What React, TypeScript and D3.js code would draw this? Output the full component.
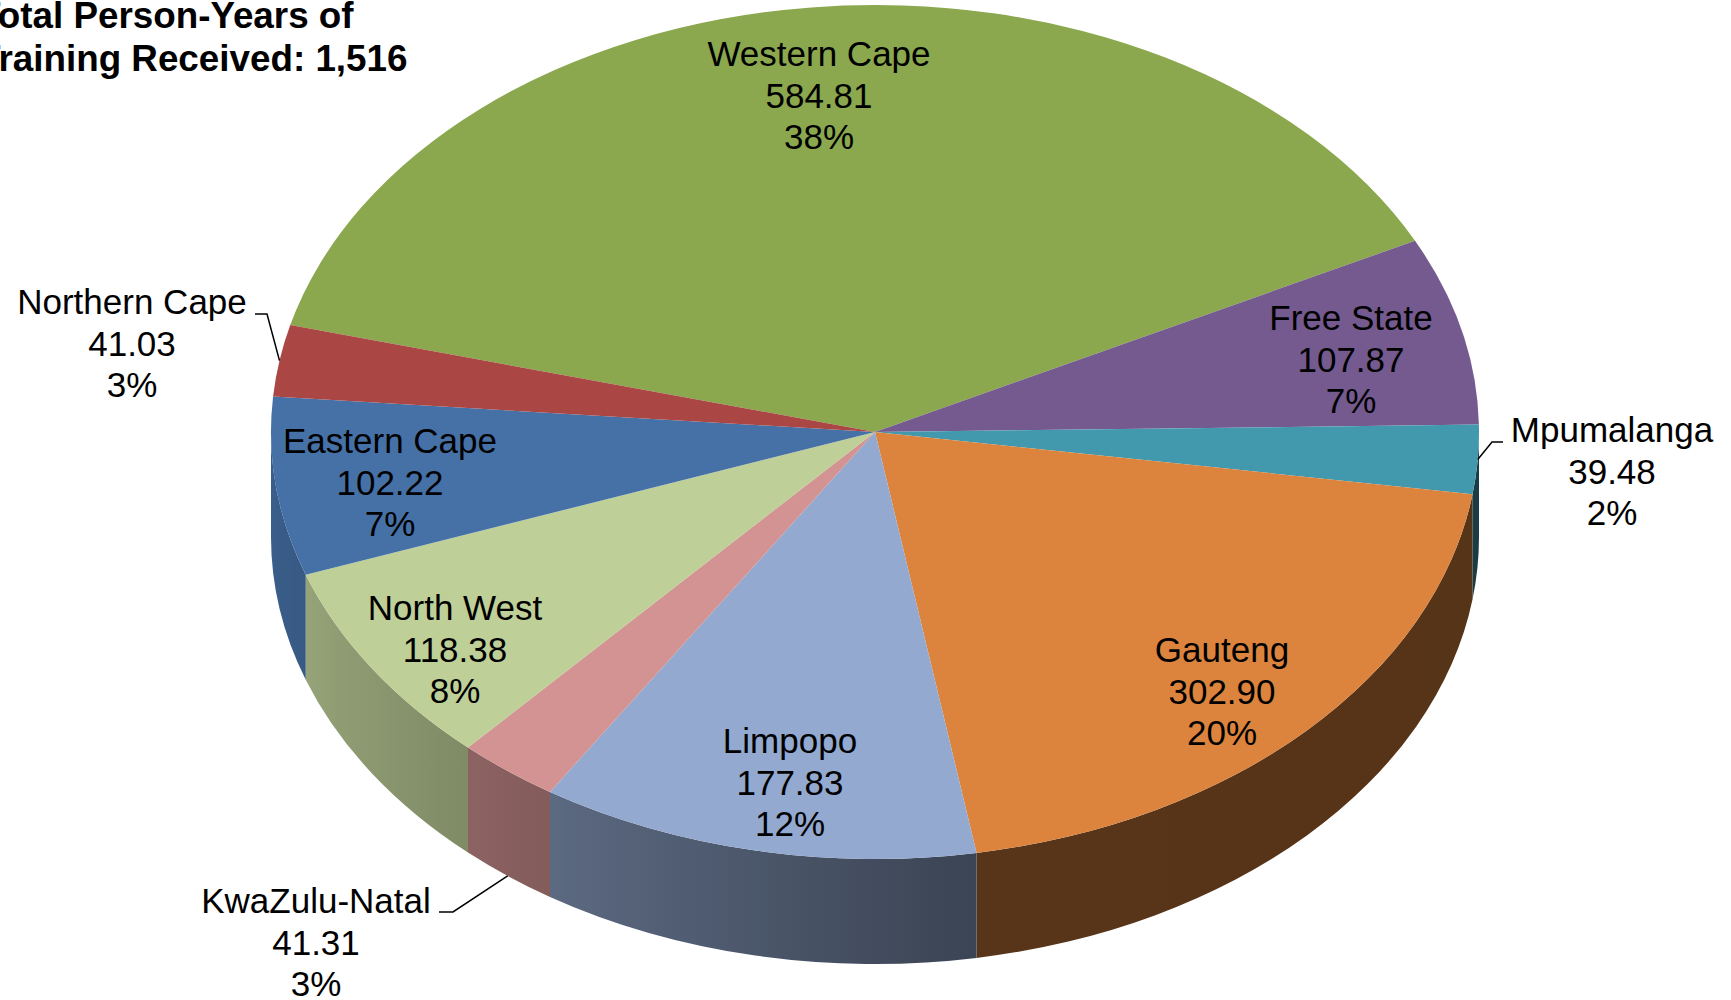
import React from "react";
import * as d3 from "d3";

// ---------- data ----------
const categories = [
  "Western Cape",
  "Free State",
  "Mpumalanga",
  "Gauteng",
  "Limpopo",
  "KwaZulu-Natal",
  "North West",
  "Eastern Cape",
  "Northern Cape",
];
const values = [584.81, 107.87, 39.48, 302.9, 177.83, 41.31, 118.38, 102.22, 41.03];
const percentLabels = ["38%", "7%", "2%", "20%", "12%", "3%", "8%", "7%", "3%"];
const titleLines = ["Total Person-Years of", "Training Received: 1,516"];

// ---------- style / layout ----------
const topColors = [
  "#8BA84E",
  "#745A8F",
  "#4299AE",
  "#DC843D",
  "#93A9D0",
  "#D29392",
  "#BECF98",
  "#4671A7",
  "#AA4644",
];

const W = 1731;
const H = 1000;
const CX = 875;
const CY = 432;
const RX = 604;
const RY = 427;
const DEPTH = 105;
const START_DEG = -75.5;
const FONT = "'Liberation Sans', Arial, Helvetica, sans-serif";
const FS = 35;
const LH = 41.5;

// label anchor: centre x, first baseline
const labelAnchors: [number, number][] = [
  [819, 66],
  [1351, 330],
  [1612, 442],
  [1222, 662],
  [790, 753],
  [316, 913],
  [455, 620],
  [390, 453],
  [132, 314],
];
// leader lines: elbow points, and whether the end sits on the bottom rim
const leaders: { idx: number; pts: [number, number][]; bottom: boolean }[] = [
  { idx: 2, pts: [[1503, 442], [1492, 442]], bottom: false },
  { idx: 5, pts: [[439, 912], [453, 912]], bottom: true },
  { idx: 8, pts: [[255, 314], [267, 314]], bottom: false },
];

const shade = d3
  .scaleLinear<number>()
  .domain([90, 170, 212, 222, 250, 270])
  .range([0.39, 0.4, 0.62, 0.67, 0.79, 0.84])
  .clamp(true);

const px = (t: number) => CX + RX * Math.sin(t);
const py = (t: number) => CY - RY * Math.cos(t);

function darken(c: string, f: number) {
  const r = d3.rgb(c);
  return d3.rgb(r.r * f, r.g * f, r.b * f).formatHex();
}

export default function App() {
  const start = (START_DEG * Math.PI) / 180;
  const arcs = d3
    .pie<number>()
    .sort(null)
    .startAngle(start)
    .endAngle(start + 2 * Math.PI)(values);

  const half = Math.PI / 2;
  const sides: { i: number; a: number; b: number }[] = [];
  arcs.forEach((arc, i) => {
    for (const off of [0, 2 * Math.PI, -2 * Math.PI]) {
      const a = Math.max(arc.startAngle + off, half);
      const b = Math.min(arc.endAngle + off, 3 * half);
      if (b - a > 1e-4) sides.push({ i, a, b });
    }
  });

  const topPath = (a0: number, a1: number) => {
    const large = a1 - a0 > Math.PI ? 1 : 0;
    return `M${CX},${CY}L${px(a0)},${py(a0)}A${RX},${RY} 0 ${large} 1 ${px(a1)},${py(a1)}Z`;
  };
  const sidePath = (a: number, b: number) =>
    `M${px(a)},${py(a)}A${RX},${RY} 0 0 1 ${px(b)},${py(b)}L${px(b)},${py(b) + DEPTH}A${RX},${RY} 0 0 0 ${px(a)},${py(a) + DEPTH}Z`;

  return (
    <svg
      width={W}
      height={H}
      viewBox={`0 0 ${W} ${H}`}
      style={{ position: "absolute", left: 0, top: 0, background: "#fff" }}
      fontFamily={FONT}
    >
      <defs>
        {sides.map((s, k) => {
          const x1 = px(s.b);
          const x2 = px(s.a);
          const n = Math.max(2, Math.ceil(((s.b - s.a) * 180) / Math.PI / 2));
          const stops = d3.range(n + 1).map((j) => {
            const t = s.a + ((s.b - s.a) * j) / n;
            const off = x2 === x1 ? 0 : (px(t) - x1) / (x2 - x1);
            return { off, col: darken(topColors[s.i], shade((t * 180) / Math.PI)) };
          });
          stops.sort((p, q) => p.off - q.off);
          return (
            <linearGradient key={k} id={`side${k}`} gradientUnits="userSpaceOnUse" x1={x1} y1={0} x2={x2} y2={0}>
              {stops.map((st, j) => (
                <stop key={j} offset={Math.min(1, Math.max(0, st.off))} stopColor={st.col} />
              ))}
            </linearGradient>
          );
        })}
      </defs>

      {sides.map((s, k) => (
        <path key={`s${k}`} d={sidePath(s.a, s.b)} fill={`url(#side${k})`} />
      ))}
      {arcs.map((arc, i) => (
        <path key={`t${i}`} d={topPath(arc.startAngle, arc.endAngle)} fill={topColors[i]} />
      ))}

      {leaders.map((l) => {
        const arc = arcs[l.idx];
        const m = (arc.startAngle + arc.endAngle) / 2;
        const end: [number, number] = [px(m), py(m) + (l.bottom ? DEPTH : 0)];
        const pts = [...l.pts, end];
        return (
          <path
            key={`l${l.idx}`}
            d={d3.line()(pts) || ""}
            fill="none"
            stroke="#000"
            strokeWidth={1.5}
          />
        );
      })}

      {categories.map((c, i) => {
        const [x, y] = labelAnchors[i];
        const lines = [c, values[i].toFixed(2), percentLabels[i]];
        return (
          <text key={`x${i}`} x={x} y={y} fontSize={FS} textAnchor="middle" fill="#000">
            {lines.map((ln, j) => (
              <tspan key={j} x={x} y={y + j * LH}>
                {ln}
              </tspan>
            ))}
          </text>
        );
      })}

      <text fontSize={36.8} fontWeight="bold" fill="#000">
        {titleLines.map((ln, j) => (
          <tspan key={j} x={-22} y={28 + j * 43}>
            {ln}
          </tspan>
        ))}
      </text>
    </svg>
  );
}
